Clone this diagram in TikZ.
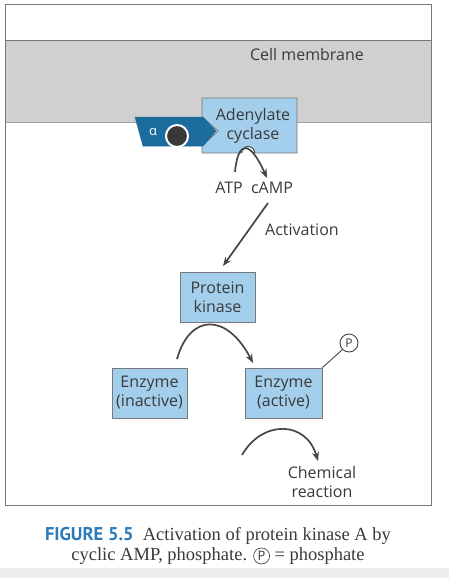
\documentclass[tikz,border=0pt]{standalone}
\usepackage{fontspec}
\setmainfont{Liberation Serif}
\setsansfont{Open Sans}
\newfontfamily\figfont{PT Sans}
\usetikzlibrary{arrows.meta}
\definecolor{membr}{RGB}{208,208,208}
\definecolor{boxblue}{RGB}{163,207,236}
\definecolor{alphablue}{RGB}{28,108,158}
\definecolor{txt}{RGB}{58,58,58}
\definecolor{arr}{RGB}{70,70,70}
\definecolor{capblue}{RGB}{43,123,185}
\definecolor{frame}{RGB}{120,120,120}
\newcommand{\circP}{\tikz[baseline=(cp.base)]\node[circle,draw=txt,line width=0.6pt,inner sep=0.4pt,
  font=\sffamily\fontsize{13}{13}\selectfont,text=txt,minimum size=16pt](cp){P};}
\tikzset{
  lbl/.style={font=\sffamily\fontsize{16}{19}\selectfont, text=txt, align=center, inner sep=0pt},
  bluebox/.style={draw=frame, line width=0.9pt, fill=boxblue, minimum width=75pt, minimum height=50pt,
    font=\sffamily\fontsize{16}{19}\selectfont, text=txt, align=center, inner sep=0pt},
  arrowline/.style={draw=arr, line width=1.7pt, -{Stealth[length=9pt,width=7pt]}},
}
\begin{document}
\begin{tikzpicture}[x=1pt,y=-1pt]
\useasboundingbox (0,0) rectangle (449,578);
\fill[gray!15] (0,568) rectangle (449,578);
% membrane
\fill[membr] (5,40) rectangle (431,122);
\draw[frame, line width=0.9pt] (5,40) -- (431,40);
\draw[frame!70, line width=0.6pt] (5,122) -- (431,122);
\draw[frame, line width=0.9pt] (5,4) rectangle (431,505);
\node[lbl] (mem) at (307,55) {Cell membrane};
% adenylate cyclase
\filldraw[fill=boxblue, draw=frame, line width=0.9pt]
  (202,98) -- (297,98) -- (297,153) -- (202,153) -- (202,146) -- (218,131) -- (202,117) -- cycle;
\node[lbl] (ac) at (253,126) {Adenylate\\cyclase};
% alpha subunit
\filldraw[fill=alphablue, draw=alphablue, line width=0.5pt]
  (135,117) -- (203,117) -- (216,131) -- (203,146) -- (143,146) -- cycle;
\node[font=\sffamily\fontsize{13}{13}\selectfont, text=white] (alpha) at (153,132) {α};
\node[circle, fill=black!78, draw=white, line width=2pt, minimum size=22pt, inner sep=0pt] (gprot) at (177,136) {};
% binding site (half-circle notch in the bottom edge)
\node[circle, fill=white, minimum size=13pt, inner sep=0pt] (site) at (248,153) {};
\draw[arr, line width=1pt] (site.east) arc[start angle=0, end angle=180, radius=6.5pt];
% ATP -> cAMP
\node[lbl] (atp) at (229,188) {ATP};
\node[lbl] (camp) at (272,188) {cAMP};
\coordinate (atpS) at (235,172);
\coordinate (campN) at (267,178);
\draw[arrowline] (atpS) .. controls (238,140) and (250,140) .. (campN);
% activation
\coordinate (actS) at (268,203);
\node[bluebox] (kinase) at (217.5,297) {Protein\\kinase};
\coordinate (kinN) at (223,266);
\draw[arrowline] (actS) -- (kinN);
\node[lbl] (act) at (302,230) {Activation};
% enzymes
\node[bluebox] (inact) at (149.5,393) {Enzyme\\(inactive)};
\node[bluebox, minimum width=77pt] (active) at (283.5,393) {Enzyme\\(active)};
\coordinate (arcA) at (177,359);
\coordinate (arcB) at (253,363);
\draw[arrowline] (arcA) .. controls (190,313) and (227,313) .. (arcB);
% phosphate
\node[circle, draw=arr, line width=0.9pt, minimum size=18pt, inner sep=0pt,
  font=\sffamily\fontsize{12}{12}\selectfont, text=txt] (P) at (349,343) {P};
\draw[arr, line width=0.9pt] (active.north east) -- (P.south west);
% chemical reaction
\node[lbl] (chem) at (322,482) {Chemical\\reaction};
\coordinate (arcC) at (242,455);
\coordinate (arcD) at (318,461);
\draw[arrowline] (arcC) .. controls (262,420) and (306,420) .. (arcD);
% caption
\node[font=\fontsize{18.5}{20}\selectfont, text=txt, align=center, inner sep=0pt] (cap) at (218,546)
  {{\figfont\bfseries\color{capblue}FIGURE 5.5}\ \ Activation of protein kinase A by\\
   cyclic AMP, phosphate. \circP\ = phosphate};
\end{tikzpicture}
\end{document}
